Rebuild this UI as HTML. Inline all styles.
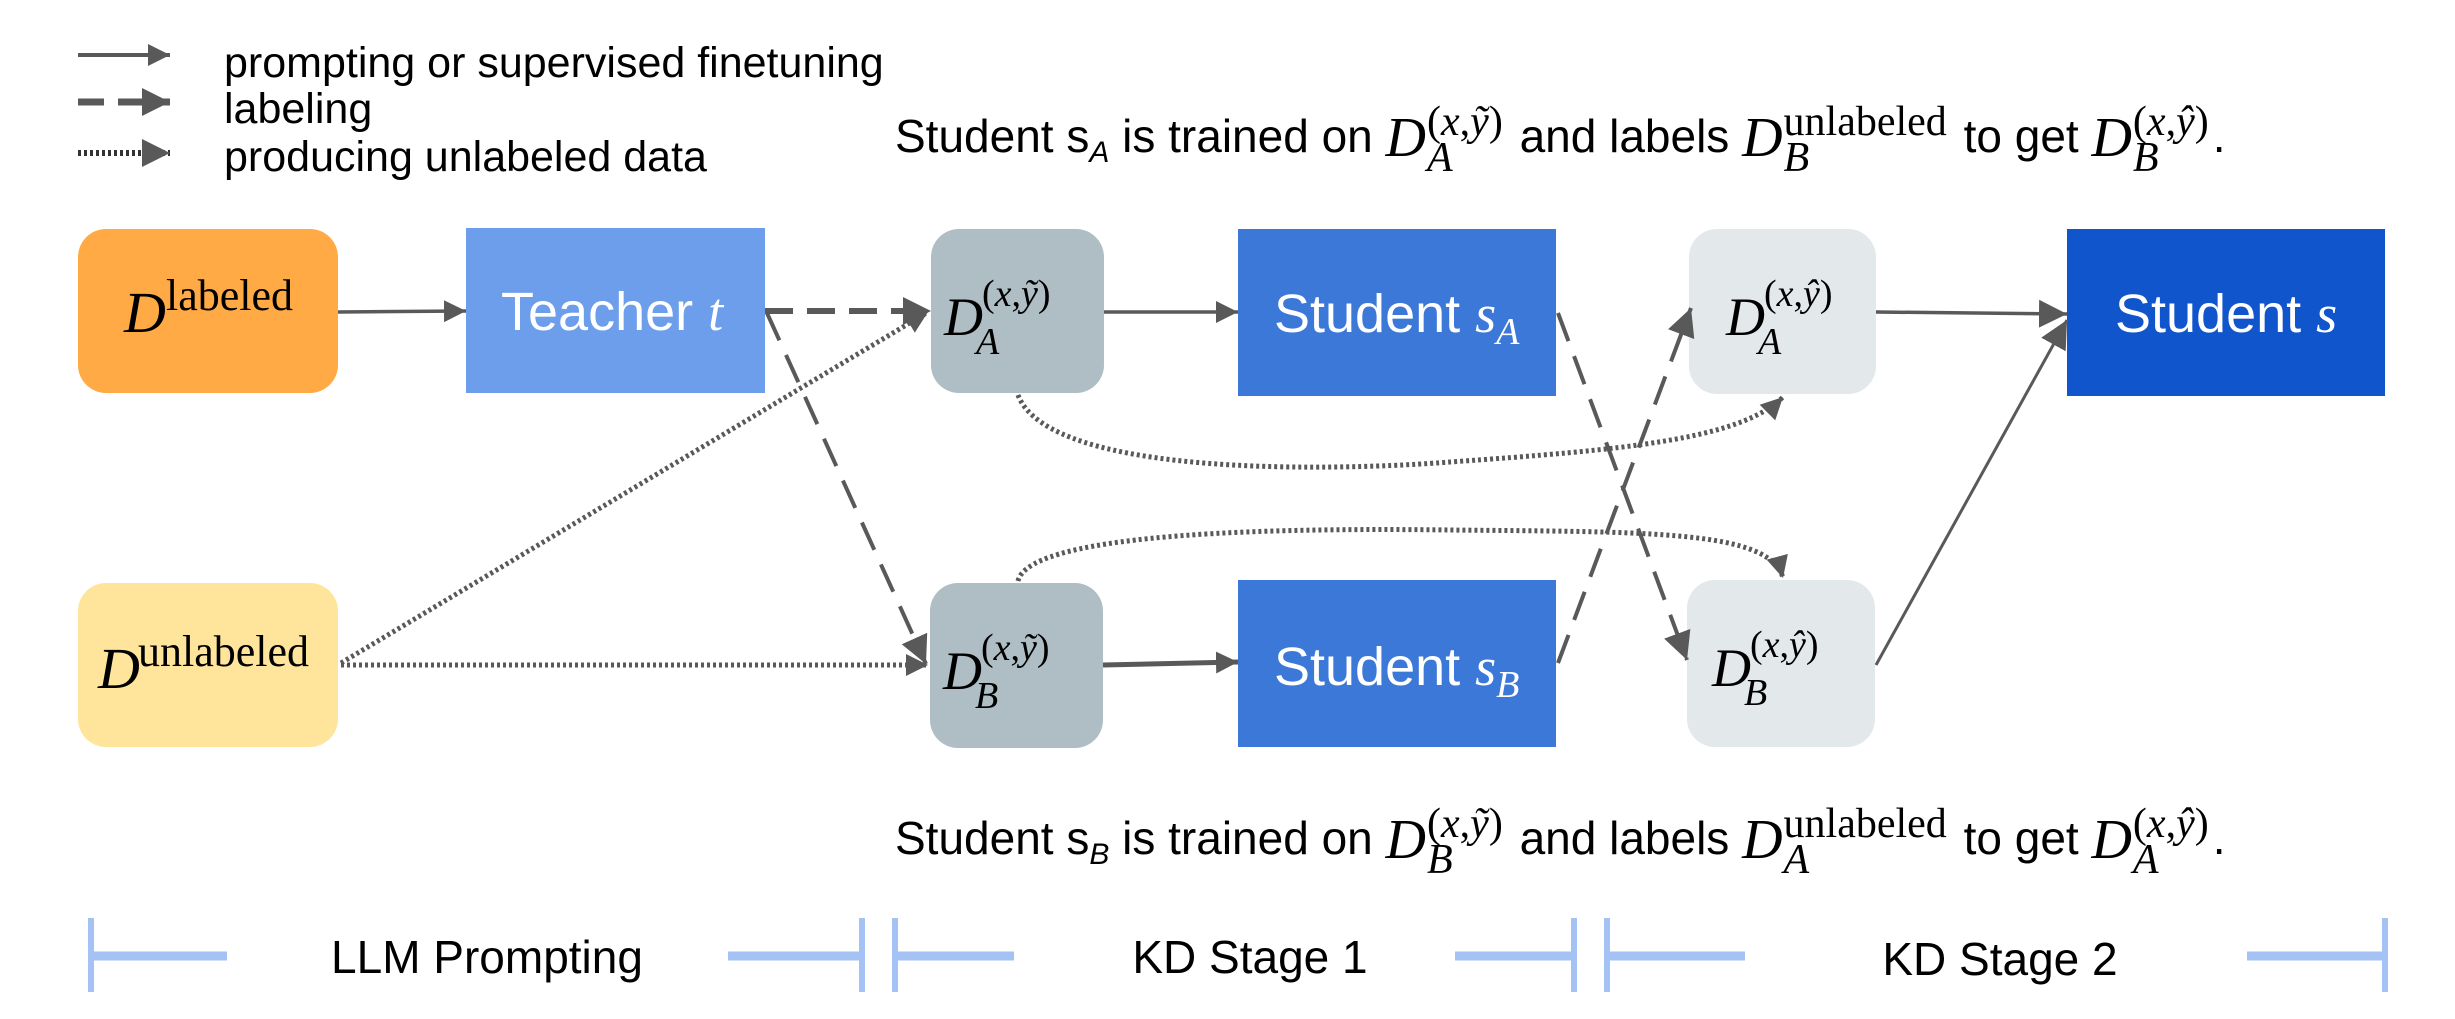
<!DOCTYPE html>
<html><head><meta charset="utf-8"><style>
html,body{margin:0;padding:0;background:#fff;}
#c{position:relative;width:2455px;height:1019px;overflow:hidden;font-family:"Liberation Sans",sans-serif;}
svg{position:absolute;left:0;top:0;}
.sent{position:absolute;font-size:46px;color:#000;white-space:nowrap;line-height:1;}
.m{font-family:"Liberation Serif",serif;font-style:italic;font-size:56px;vertical-align:-4px;}
.st{display:inline-block;vertical-align:middle;position:relative;font-family:"Liberation Serif",serif;font-size:42px;line-height:36px;margin-left:1px;margin-right:4px;}
.st span{display:block;}
.up{font-style:normal;}
sub.s{font-size:30px;font-style:italic;vertical-align:-10px;}
</style></head><body><div id="c">
<svg width="2455" height="1019" viewBox="0 0 2455 1019">
<defs>
<marker id="a" viewBox="0 0 10 10" refX="10" refY="5" markerWidth="22" markerHeight="22" markerUnits="userSpaceOnUse" orient="auto"><path d="M0,0 L10,5 L0,10 z" fill="#595959"/></marker>
<marker id="b" viewBox="0 0 10 10" refX="10" refY="5" markerWidth="28" markerHeight="28" markerUnits="userSpaceOnUse" orient="auto"><path d="M0,0 L10,5 L0,10 z" fill="#595959"/></marker>
</defs>
<line x1="78" y1="55" x2="170" y2="55" stroke="#595959" stroke-width="4" marker-end="url(#a)"/>
<line x1="78" y1="102" x2="170" y2="102" stroke="#595959" stroke-width="7" stroke-dasharray="26 14" marker-end="url(#b)"/>
<line x1="78" y1="153" x2="170" y2="153" stroke="#333" stroke-width="6" stroke-dasharray="3 3" marker-end="url(#b)"/>
<text x="224" y="77" font-size="43" fill="#000">prompting or supervised finetuning</text>
<text x="224" y="123" font-size="43" fill="#000">labeling</text>
<text x="224" y="171" font-size="43" fill="#000">producing unlabeled data</text>

<rect x="78" y="229" width="260" height="164" rx="28" fill="#FFAA44"/>
<rect x="466" y="228" width="299" height="165" fill="#6D9EEB"/>
<rect x="931" y="229" width="173" height="164" rx="28" fill="#AFBDC4"/>
<rect x="1238" y="229" width="318" height="167" fill="#3C78D8"/>
<rect x="1689" y="229" width="187" height="165" rx="28" fill="#E3E8EA"/>
<rect x="2067" y="229" width="318" height="167" fill="#1155CC"/>
<rect x="78" y="583" width="260" height="164" rx="28" fill="#FFE59C"/>
<rect x="930" y="583" width="173" height="165" rx="28" fill="#AFBDC4"/>
<rect x="1238" y="580" width="318" height="167" fill="#3C78D8"/>
<rect x="1687" y="580" width="188" height="167" rx="28" fill="#E3E8EA"/>

<g stroke="#595959" fill="none">
<line x1="338" y1="312" x2="466" y2="311" stroke-width="3.5" marker-end="url(#a)"/>
<line x1="765" y1="311" x2="931" y2="311" stroke-width="6" stroke-dasharray="28 14" marker-end="url(#b)"/>
<line x1="767" y1="313" x2="926" y2="664" stroke-width="4" stroke-dasharray="30 16" marker-end="url(#b)"/>
<line x1="341" y1="663" x2="928" y2="312" stroke-width="5" stroke-dasharray="3 3" marker-end="url(#a)"/>
<line x1="341" y1="665" x2="928" y2="665" stroke-width="5" stroke-dasharray="3 3" marker-end="url(#a)"/>
<line x1="1104" y1="312" x2="1238" y2="312" stroke-width="3.5" marker-end="url(#a)"/>
<line x1="1103" y1="665" x2="1238" y2="662" stroke-width="5" marker-end="url(#a)"/>
<path d="M1018,395 C1050,480 1350,470 1450,462 C1620,450 1740,440 1783,397" stroke-width="5" stroke-dasharray="3 3" marker-end="url(#a)"/>
<path d="M1018,581 C1030,530 1300,528 1450,530 C1650,532 1770,530 1783,578" stroke-width="5" stroke-dasharray="3 3" marker-end="url(#a)"/>
<line x1="1558" y1="313" x2="1687" y2="660" stroke-width="4" stroke-dasharray="30 16" marker-end="url(#b)"/>
<line x1="1558" y1="663" x2="1691" y2="308" stroke-width="4" stroke-dasharray="30 16" marker-end="url(#b)"/>
<line x1="1876" y1="312" x2="2067" y2="314" stroke-width="3.5" marker-end="url(#b)"/>
<line x1="1876" y1="665" x2="2067" y2="320" stroke-width="3" marker-end="url(#b)"/>
</g>

<g font-family="Liberation Serif, serif" fill="#000">
<text x="124" y="332" font-size="58" font-style="italic">D</text>
<text x="166" y="310" font-size="44">labeled</text>
<text x="98" y="688" font-size="58" font-style="italic">D</text>
<text x="138" y="666" font-size="44">unlabeled</text>

<text x="944" y="335" font-size="54" font-style="italic">D</text>
<text x="982" y="306" font-size="38">(<tspan font-style="italic">x</tspan>,<tspan font-style="italic">ỹ</tspan>)</text>
<text x="976" y="354" font-size="38" font-style="italic">A</text>

<text x="943" y="689" font-size="54" font-style="italic">D</text>
<text x="981" y="660" font-size="38">(<tspan font-style="italic">x</tspan>,<tspan font-style="italic">ỹ</tspan>)</text>
<text x="975" y="708" font-size="38" font-style="italic">B</text>

<text x="1726" y="335" font-size="54" font-style="italic">D</text>
<text x="1764" y="306" font-size="38">(<tspan font-style="italic">x</tspan>,<tspan font-style="italic">ŷ</tspan>)</text>
<text x="1758" y="354" font-size="38" font-style="italic">A</text>

<text x="1712" y="686" font-size="54" font-style="italic">D</text>
<text x="1750" y="657" font-size="38">(<tspan font-style="italic">x</tspan>,<tspan font-style="italic">ŷ</tspan>)</text>
<text x="1744" y="705" font-size="38" font-style="italic">B</text>
</g>
<g fill="#fff" font-size="54">
<text x="501" y="330">Teacher <tspan font-family="Liberation Serif, serif" font-style="italic">t</tspan></text>
<text x="1274" y="332">Student <tspan font-family="Liberation Serif, serif" font-style="italic">s</tspan><tspan font-family="Liberation Serif, serif" font-style="italic" font-size="38" dy="12">A</tspan></text>
<text x="1274" y="685">Student <tspan font-family="Liberation Serif, serif" font-style="italic">s</tspan><tspan font-family="Liberation Serif, serif" font-style="italic" font-size="38" dy="12">B</tspan></text>
<text x="2115" y="332">Student <tspan font-family="Liberation Serif, serif" font-style="italic">s</tspan></text>
</g>

<g stroke="#A4C2F4" stroke-width="6">
<line x1="91" y1="918" x2="91" y2="992"/><line x1="91" y1="956" x2="227" y2="956" stroke-width="9"/>
<line x1="728" y1="956" x2="862" y2="956" stroke-width="9"/><line x1="862" y1="918" x2="862" y2="992"/>
<line x1="895" y1="918" x2="895" y2="992"/><line x1="895" y1="956" x2="1014" y2="956" stroke-width="9"/>
<line x1="1455" y1="956" x2="1574" y2="956" stroke-width="9"/><line x1="1574" y1="918" x2="1574" y2="992"/>
<line x1="1607" y1="918" x2="1607" y2="992"/><line x1="1607" y1="956" x2="1745" y2="956" stroke-width="9"/>
<line x1="2247" y1="956" x2="2385" y2="956" stroke-width="9"/><line x1="2385" y1="918" x2="2385" y2="992"/>
</g>
<g font-size="46" fill="#000" text-anchor="middle">
<text x="487" y="973">LLM Prompting</text>
<text x="1250" y="973">KD Stage 1</text>
<text x="2000" y="975">KD Stage 2</text>
</g>
</svg>

<div class="sent" style="left:895px;top:104px;">Student s<sub class="s">A</sub> is trained on <span class="m">D</span><span class="st"><span class="up">(<i>x</i>,<i>ỹ</i>)</span><span><i>A</i></span></span> and labels <span class="m">D</span><span class="st"><span class="up">unlabeled</span><span><i>B</i></span></span> to get <span class="m">D</span><span class="st"><span class="up">(<i>x</i>,<i>ŷ</i>)</span><span><i>B</i></span></span>.</div>
<div class="sent" style="left:895px;top:806px;">Student s<sub class="s">B</sub> is trained on <span class="m">D</span><span class="st"><span class="up">(<i>x</i>,<i>ỹ</i>)</span><span><i>B</i></span></span> and labels <span class="m">D</span><span class="st"><span class="up">unlabeled</span><span><i>A</i></span></span> to get <span class="m">D</span><span class="st"><span class="up">(<i>x</i>,<i>ŷ</i>)</span><span><i>A</i></span></span>.</div>
</div></body></html>
